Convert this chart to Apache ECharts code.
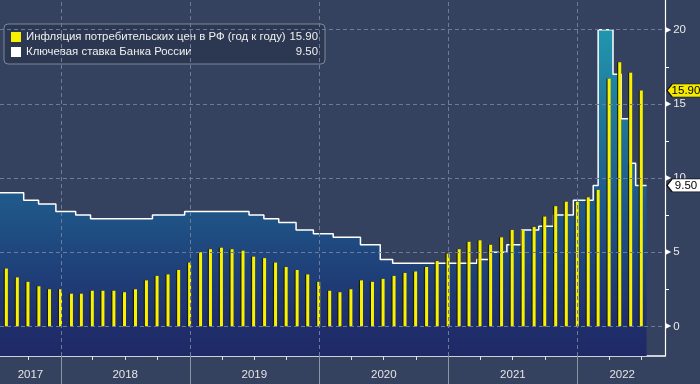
<!DOCTYPE html>
<html><head><meta charset="utf-8">
<script src="https://cdn.jsdelivr.net/npm/echarts@6/dist/echarts.min.js"></script>
<style>html,body{margin:0;padding:0;background:#35425f}#c{width:700px;height:384px}</style>
</head><body><div id="c"></div>
<script>
// ---- data ----
const cpiStartYear = 2017, cpiStartMonth = 7; // first monthly observation: July 2017
const cpiValues = [
  3.9, 3.3, 3.0, 2.7, 2.5, 2.5,
  2.2, 2.2, 2.4, 2.4, 2.4, 2.3, 2.5, 3.1, 3.4, 3.5, 3.8, 4.3,
  5.0, 5.2, 5.3, 5.2, 5.1, 4.7, 4.6, 4.3, 4.0, 3.8, 3.5, 3.0,
  2.4, 2.3, 2.5, 3.1, 3.0, 3.2, 3.4, 3.6, 3.7, 4.0, 4.4, 4.9,
  5.2, 5.7, 5.8, 5.5, 6.0, 6.5, 6.5, 6.7, 7.4, 8.1, 8.4, 8.4,
  8.7, 9.2, 16.7, 17.8, 17.1, 15.9
];
const rateDates = ['2017-06-19','2017-09-18','2017-10-30','2017-12-18','2018-02-12','2018-03-26',
  '2018-09-17','2018-12-17','2019-06-17','2019-07-29','2019-09-09','2019-10-28','2019-12-16',
  '2020-02-10','2020-04-27','2020-06-22','2020-07-27','2021-03-22','2021-04-26','2021-06-15',
  '2021-07-26','2021-09-13','2021-10-25','2021-12-20','2022-02-14','2022-02-28','2022-04-11',
  '2022-05-04','2022-05-27','2022-06-14','2022-07-15'];
const rateValues = [9.00,8.50,8.25,7.75,7.50,7.25,7.50,7.75,7.50,7.25,7.00,6.50,6.25,
  6.00,5.50,4.50,4.25,4.50,5.00,5.50,6.50,6.75,7.50,8.50,9.50,20.00,17.00,14.00,11.00,9.50,9.50];
const seriesNames = ['Инфляция потребительских цен в РФ (год к году)', 'Ключевая ставка Банка России'];
const lastValues = ['15.90', '9.50'];
const lastNumbers = [15.9, 9.5];
const xMinDate = '2017-07-13', xMaxDate = '2022-09-05';
const yearStarts = ['2018-01-01','2019-01-01','2020-01-01','2021-01-01','2022-01-01'];
const quarterTicks = ['2017-10-01','2018-04-01','2018-07-01','2018-10-01','2019-04-01','2019-07-01','2019-10-01',
  '2020-04-01','2020-07-01','2020-10-01','2021-04-01','2021-07-01','2021-10-01','2022-04-01','2022-07-01'];
const yearLabelDates = ['2017-10-07','2018-07-02','2019-07-02','2020-07-02','2021-07-02','2022-05-07'];
const yLabelValues = [0, 5, 10, 15, 20];
const yMinorTicks = [2.5, 7.5, 12.5, 17.5];

// ---- helpers ----
const t = s => { const [y, m, d] = s.split('-').map(Number); return new Date(y, m - 1, d).getTime(); };
const cpiData = cpiValues.map((v, i) => [new Date(cpiStartYear, cpiStartMonth - 1 + i + 1, 0).getTime(), v]);
const rateData = rateDates.map((d, i) => [t(d), rateValues[i]]);
const valByName = {}; seriesNames.forEach((n, i) => valByName[n] = lastValues[i]);
const xMin = t(xMinDate), xMax = t(xMaxDate);
const tagPath = 'path://M0,6.5L5,0L33,0L33,13L5,13Z';
const FONT = 'Liberation Sans';

const chart = echarts.init(document.getElementById('c'), null, {renderer: 'canvas'});
chart.setOption({
  backgroundColor: '#35425f',
  animation: false,
  textStyle: {fontFamily: FONT},
  grid: {left: 0, right: 35, top: 0, bottom: 28, containLabel: false},
  legend: {
    left: 4, top: 24, orient: 'vertical',
    backgroundColor: '#2c3751', borderColor: '#7f8898', borderWidth: 1, borderRadius: 4,
    padding: [6, 7, 5, 7], itemGap: 1, itemWidth: 10, itemHeight: 10, icon: 'rect',
    data: [
      {name: seriesNames[0], itemStyle: {color: '#f8f000', shadowBlur: 0, shadowOffsetX: 0}},
      {name: seriesNames[1], itemStyle: {color: '#ffffff'}}
    ],
    formatter: n => `{n|${n}}{v|${valByName[n]}}`,
    textStyle: {color: '#f0f0f0', fontSize: 11.4, lineHeight: 14, fontFamily: FONT,
      rich: {n: {width: 264, fontSize: 11.4, lineHeight: 14, color: '#f0f0f0', fontFamily: FONT},
             v: {width: 28, align: 'right', fontSize: 11.4, lineHeight: 14, color: '#f0f0f0', fontFamily: FONT}}}
  },
  xAxis: [{
    type: 'value', position: 'bottom', min: xMin, max: xMax, scale: true,
    axisLine: {show: true, onZero: false, lineStyle: {color: '#ffffff', width: 1.5}},
    axisTick: {show: true, length: 4, lineStyle: {color: '#e0e0e0'}, customValues: quarterTicks.map(t)},
    axisLabel: {show: true, color: '#e4e4e4', fontSize: 11.5, margin: 13, fontFamily: FONT,
      customValues: yearLabelDates.map(t), formatter: v => String(new Date(v).getFullYear())},
    splitLine: {show: false}
  }, {
    type: 'value', position: 'bottom', min: xMin, max: xMax, scale: true,
    axisLine: {show: false, onZero: false},
    axisTick: {show: true, length: 28, lineStyle: {color: '#8c95a8', width: 1}, customValues: yearStarts.map(t)},
    axisLabel: {show: false},
    splitLine: {show: false}
  }],
  yAxis: {
    type: 'value', position: 'right', min: -2, max: 22,
    axisLine: {show: true, lineStyle: {color: '#ffffff', width: 1.2}},
    axisTick: {show: true, length: 4, lineStyle: {color: '#ffffff'}, customValues: yMinorTicks},
    axisLabel: {show: true, margin: 0, customValues: yLabelValues,
      formatter: v => `{t|▶}{v|${v}}`,
      rich: {t: {fontSize: 8, color: '#ffffff', fontFamily: 'DejaVu Sans', padding: [0, 2, 0, 0]},
             v: {fontSize: 11.5, color: '#e8e8e8', fontFamily: FONT}}},
    splitLine: {show: false}
  },
  series: [{
    name: seriesNames[1], type: 'line', step: 'end', data: rateData, z: 2,
    symbol: 'none', showSymbol: false,
    itemStyle: {color: '#ffffff'},
    lineStyle: {color: '#ffffff', width: 1.5},
    areaStyle: {origin: 'start', opacity: 1, color: new echarts.graphic.LinearGradient(0, 0, 0, 1, [
      {offset: 0, color: '#2196ae'},
      {offset: 0.5, color: '#1f5b8b'},
      {offset: 0.9, color: '#1f2e6c'},
      {offset: 1, color: '#1e2a66'}
    ])},
    markLine: {
      silent: true, symbol: 'none', label: {show: false}, animation: false,
      lineStyle: {color: '#6a7b9b', type: [4, 3], width: 1},
      data: [...yLabelValues.map(v => ({yAxis: v})), ...yearStarts.map(d => ({xAxis: t(d)}))]
    },
    markPoint: {
      symbol: tagPath, symbolSize: [34, 13], symbolOffset: [19, 0], silent: true,
      itemStyle: {color: '#ffffff', borderColor: '#111111', borderWidth: 1},
      label: {show: true, color: '#000000', fontSize: 11.5, offset: [2, 0], fontFamily: FONT, formatter: lastValues[1]},
      data: [{coord: [xMax, lastNumbers[1]]}]
    }
  }, {
    name: seriesNames[0], type: 'bar', data: cpiData, z: 3, barWidth: 3,
    itemStyle: {color: '#f8f200', shadowColor: 'rgba(25,25,0,0.85)', shadowOffsetX: -1.2, shadowBlur: 0},
    markPoint: {
      symbol: tagPath, symbolSize: [34, 13], symbolOffset: [19, 0], silent: true,
      itemStyle: {color: '#f5ea00', borderColor: '#111111', borderWidth: 1, shadowBlur: 0, shadowOffsetX: 0},
      label: {show: true, color: '#000000', fontSize: 11.5, offset: [2, 0], fontFamily: FONT, formatter: lastValues[0]},
      data: [{coord: [xMax, lastNumbers[0]]}]
    }
  }]
});
</script></body></html>
